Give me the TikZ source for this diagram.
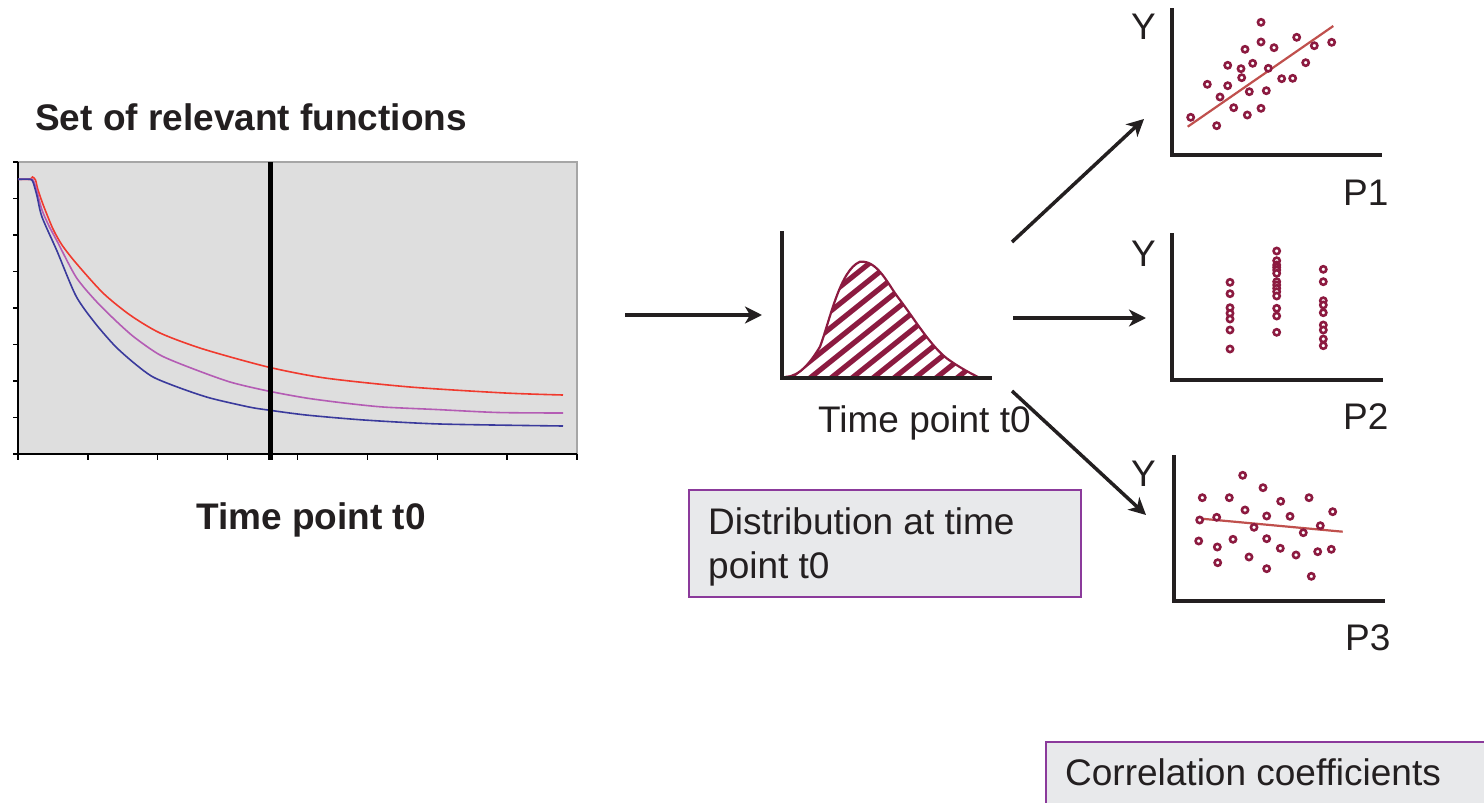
\documentclass[tikz,border=0pt]{standalone}
\usepackage{fontspec}
\setmainfont{Liberation Sans}
\usetikzlibrary{arrows.meta}
\definecolor{textc}{HTML}{231F20}
\definecolor{crim}{HTML}{8C1A40}
\definecolor{fitc}{HTML}{C0504D}
\definecolor{boxpurple}{HTML}{8B3A9B}
\definecolor{boxfill}{HTML}{E8E9EB}
\definecolor{panel}{HTML}{DEDEDE}
\definecolor{redc}{HTML}{F03A2E}
\definecolor{magc}{HTML}{B45CB4}
\definecolor{bluec}{HTML}{3A3A9C}
\tikzset{
  txt/.style={font=\fontsize{37}{44}\selectfont, text=textc, inner sep=0, anchor=base west},
  boldtxt/.style={txt, font=\fontsize{37}{44}\selectfont\bfseries},
  plotaxis/.style={line width=4pt, draw=textc, line cap=rect},
  dot/.style={circle, draw=crim, fill=white, line width=2.6pt, minimum size=6.2pt, inner sep=0},
  arr/.style={line width=3.5pt, draw=textc, -{Stealth[length=17pt,width=17pt,inset=5pt]}},
  fitline/.style={draw=fitc, line width=2.2pt},
  infobox/.style={draw=boxpurple, fill=boxfill, line width=2pt},
  curve/.style={line width=1.6pt, smooth, tension=0.45},
}
\begin{document}
\begin{tikzpicture}[x=1pt,y=-1pt]
\useasboundingbox (0,0) rectangle (1484,803);
\fill[white] (0,0) rectangle (1484,803);

% ---------- left chart ----------
\fill[panel] (18,162) rectangle (577,454);
\draw[gray!70, line width=1.2pt] (18,162) -- (577,162) -- (577,454);
\draw[black, line width=1.4pt] (18,162) -- (18,454) -- (577,454);
\foreach \k in {0,...,8} {
  \draw[black, line width=1.4pt] (13,{162+\k*36.5}) -- (18,{162+\k*36.5});
  \draw[black, line width=1.4pt] ({18+\k*69.875},454) -- ({18+\k*69.875},460);
}
\draw[redc, curve] plot coordinates {(18,179.3) (30,179.3) (32.5,177) (35.5,180) (38,190) (44,207) (53,229) (62,245) (76,263) (103,293) (130,315) (160,333) (203,349) (268,367) (325,378) (410,387) (505,393) (563,395)};
\draw[magc, curve] plot coordinates {(18,179.3) (30,179.3) (33,180) (36,188) (42,210) (49,226) (57,241) (76,277) (95,300) (115,320) (134,337) (160,355) (191,368) (230,382) (268,391) (306,398) (344,403) (383,407) (436,409.5) (498,412.5) (563,413)};
\draw[bluec, curve] plot coordinates {(18,179.3) (30,179.3) (33,182) (37,196) (42,217) (57,251) (76,296) (95,323) (115,346) (134,363) (153,377) (180,388) (210,398) (249,407) (268,410) (306,415) (364,420) (440,424) (563,426)};
\draw[black, line width=5pt] (270.5,162) -- (270.5,460);

\node[boldtxt] (title) at (35,130) {Set of relevant functions};
\node[boldtxt] (t0left) at (196,529) {Time point t0};

% ---------- distribution ----------
\begin{scope}
\path[clip] (785,377) .. controls (800,377) and (812,360) .. (820,346.7)
  .. controls (830,320) and (840,270) .. (860,261.7)
  .. controls (878,260) and (888,285) .. (900,300)
  .. controls (915,320) and (930,345) .. (946.7,358.3)
  .. controls (960,368) and (972,374) .. (978,377) -- cycle;
\fill[white] (780,250) rectangle (990,380);
\foreach \k in {0,...,14} {
  \draw[crim, line width=5.2pt] ({700+\k*21},382) -- ({700+\k*21+220},{382-220*0.8});
}
\end{scope}
\draw[crim, line width=2.2pt] (785,377) .. controls (800,377) and (812,360) .. (820,346.7)
  .. controls (830,320) and (840,270) .. (860,261.7)
  .. controls (878,260) and (888,285) .. (900,300)
  .. controls (915,320) and (930,345) .. (946.7,358.3)
  .. controls (960,368) and (972,374) .. (978,377);
\draw[plotaxis] (781.5,233) -- (781.5,377.5) -- (990,377.5);
\node[txt] (t0mid) at (818,432.5) {Time point t0};

% ---------- P1 ----------
\draw[plotaxis] (1171.5,10) -- (1171.5,155) -- (1380,155);
\draw[fitline] (1187.7,126.7) -- (1333.3,26);
\foreach \x/\y [count=\i] in {1190.7/117.3,1216.7/125.7,1207.3/84.3,1220/97,1227.7/65.3,1227.7/85.7,1233.7/107.7,1241/68.7,1241.7/77.7,1245/49.3,1247.3/115,1249.3/91.7,1252.7/63.3,1261/22.3,1261/42,1261/108.3,1266.3/90.7,1268.3/68.3,1274/47.7,1281.7/78.7,1292.7/78.3,1296.7/37.3,1305.7/62.7,1314.3/45.7,1331.7/42.3}
  \node[dot] (pa\i) at (\x,\y) {};
\node[txt] (ya) at (1131,39.3) {Y};
\node[txt] (la) at (1343,205) {P1};

% ---------- P2 ----------
\draw[plotaxis] (1172.3,235) -- (1172.3,380) -- (1380.7,380);
\foreach \y [count=\i] in {282.3,293.7,307.7,313.3,319,330,349}
  \node[dot] (pb\i) at (1230,\y) {};
\foreach \y [count=\i] in {251,260.7,265,267.3,270,273.3,281.7,285,288.3,291.7,296,308.3,316,332.3}
  \node[dot] (pc\i) at (1276.7,\y) {};
\foreach \y [count=\i] in {269.3,281.7,300.7,305,312.7,325,330,339,345.7}
  \node[dot] (pd\i) at (1323.3,\y) {};
\node[txt] (yb) at (1131,266) {Y};
\node[txt] (lb) at (1343,429) {P2};

% ---------- P3 ----------
\draw[plotaxis] (1174.3,457) -- (1174.3,601) -- (1383.3,601);
\draw[fitline] (1197.3,518.3) -- (1342.7,531.7);
\foreach \x/\y [count=\i] in {1202.3/497.7,1229.3/497.7,1242.7/475.3,1263/487.7,1280.7/501.3,1309/497.7,1332.7/511.7,1199.7/520,1216.7/517.3,1245/510,1266.7/516,1290/516.3,1254/527.3,1303.3/532.7,1320.3/525.7,1198.7/541,1217.3/547,1233/539.3,1266.7/538.7,1280.3/548.3,1296/555,1317.7/551.7,1331.3/549.3,1217.7/562.7,1249/557,1266.7/568.7,1311.3/576.3}
  \node[dot] (pe\i) at (\x,\y) {};
\node[txt] (yc) at (1131,486) {Y};
\node[txt] (lc) at (1345,650) {P3};

% ---------- arrows ----------
\coordinate (a0s) at (625,315);
\coordinate (a0e) at (762,315);
\coordinate (a1s) at (1012,242);
\coordinate (a1e) at (1144,119);
\coordinate (a2s) at (1013,318);
\coordinate (a2e) at (1146,318);
\coordinate (a3s) at (1012,391);
\coordinate (a3e) at (1146,515);
\draw[arr] (a0s) -- (a0e);
\draw[arr] (a1s) -- (a1e);
\draw[arr] (a2s) -- (a2e);
\draw[arr] (a3s) -- (a3e);

% ---------- boxes ----------
\draw[infobox] (689,490) rectangle (1081,597);
\node[txt] (distboxa) at (708,534) {Distribution at time};
\node[txt] (distboxb) at (708,578) {point t0};
\draw[infobox] (1046,742) rectangle (1495,815);
\node[txt] (corrbox) at (1065,785) {Correlation coefficients};
\end{tikzpicture}
\end{document}
